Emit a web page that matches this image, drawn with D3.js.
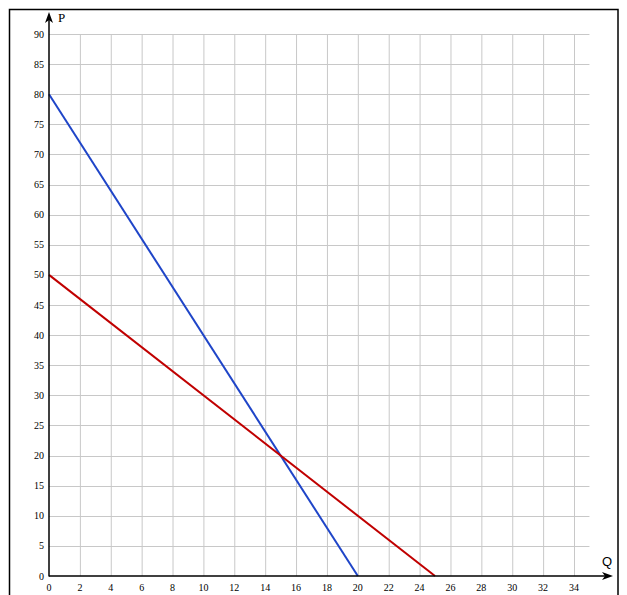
<!DOCTYPE html>
<html><head><meta charset="utf-8">
<script src="https://cdn.jsdelivr.net/npm/d3@7"></script>
<style>body{margin:0;background:#fff}svg{display:block}</style>
</head><body>
<script>
const xTicks = d3.range(0, 35, 2);
const yTicks = d3.range(0, 91, 5);
const demandBlue = [{q:0,p:80},{q:20,p:0}];
const demandRed = [{q:0,p:50},{q:25,p:0}];
const xLabel = "Q", yLabel = "P";

const W = 627, H = 595;
const svg = d3.select("body").append("svg").attr("width", W).attr("height", H);
svg.append("rect").attr("x",9.5).attr("y",9.5).attr("width",608.5).attr("height",600)
  .attr("fill","none").attr("stroke","#000").attr("stroke-width",1.5);

const x = d3.scaleLinear().domain([0,34]).range([49,574]);
const y = d3.scaleLinear().domain([0,90]).range([576,34]);
const gridX = d3.range(2, 35, 2);
const g = svg.append("g");
// grid
g.selectAll(".vg").data(gridX).enter().append("line")
  .attr("x1",d=>x(d)+0.5).attr("x2",d=>x(d)+0.5).attr("y1",y(0)).attr("y2",y(90))
  .attr("stroke","#c8c8c8").attr("stroke-width",1);
g.selectAll(".hg").data(yTicks.filter(d=>d>0)).enter().append("line")
  .attr("x1",x(0)).attr("x2",x(35)).attr("y1",d=>Math.round(y(d))+0.5).attr("y2",d=>Math.round(y(d))+0.5)
  .attr("stroke","#c8c8c8").attr("stroke-width",1);

// tick labels
g.selectAll(".xt").data(xTicks).enter().append("text")
  .attr("x",d=>x(d)).attr("y",591).attr("text-anchor","middle")
  .attr("font-family","Liberation Serif, serif").attr("font-size",10).text(d=>d);
g.selectAll(".yt").data(yTicks).enter().append("text")
  .attr("x",44).attr("y",d=>y(d)+3.5).attr("text-anchor","end")
  .attr("font-family","Liberation Serif, serif").attr("font-size",10).text(d=>d);

// lines
const line = d3.line().x(d=>x(d.q)).y(d=>y(d.p));
g.append("path").datum(demandBlue).attr("d",line).attr("fill","none").attr("stroke","#1f45c8").attr("stroke-width",2);
g.append("path").datum(demandRed).attr("d",line).attr("fill","none").attr("stroke","#c00000").attr("stroke-width",2);

// axes
g.append("line").attr("x1",x(0)).attr("x2",x(0)).attr("y1",y(0)+0.5).attr("y2",20).attr("stroke","#000").attr("stroke-width",1.5);
g.append("line").attr("x1",x(0)).attr("x2",606).attr("y1",y(0)).attr("y2",y(0)).attr("stroke","#000").attr("stroke-width",1.5);
g.append("path").attr("d",`M${x(0)},12 L${x(0)-4},23 L${x(0)},20 L${x(0)+4},23 Z`).attr("fill","#000");
g.append("path").attr("d",`M613,${y(0)} L602,${y(0)-4} L605,${y(0)} L602,${y(0)+4} Z`).attr("fill","#000");
g.append("text").attr("x",58).attr("y",22).attr("font-family","Liberation Serif, serif").attr("font-size",13).text(yLabel);
g.append("text").attr("x",602).attr("y",566).attr("font-family","Liberation Sans, sans-serif").attr("font-size",13).text(xLabel);
</script>
</body></html>
